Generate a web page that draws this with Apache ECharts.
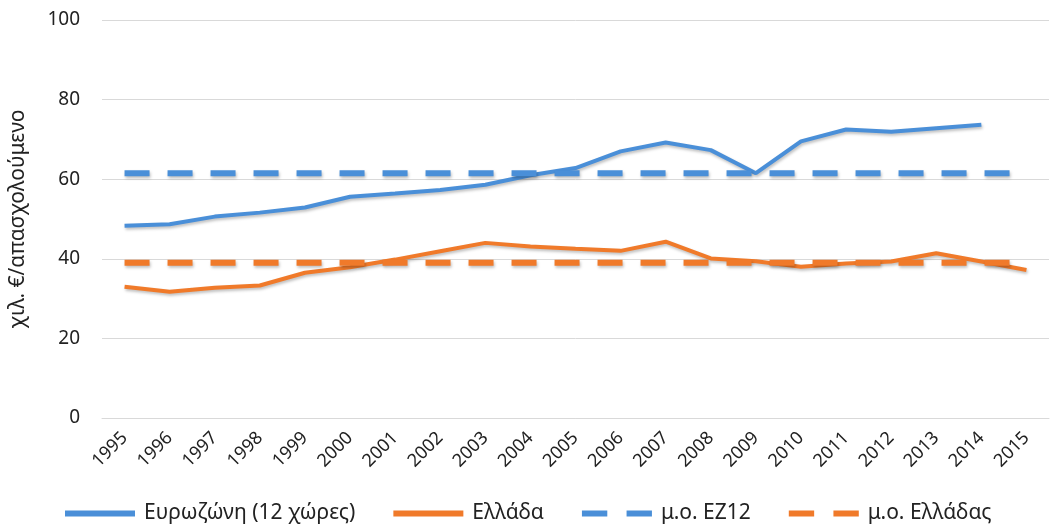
<!DOCTYPE html>
<html>
<head>
<meta charset="utf-8">
<script src="https://cdn.jsdelivr.net/npm/echarts@6/dist/echarts.min.js"></script>
<style>html,body{margin:0;padding:0;background:#fff;}#c{width:1051px;height:530px;}</style>
</head>
<body>
<div id="c"></div>
<script>
const years = ['1995','1996','1997','1998','1999','2000','2001','2002','2003','2004','2005','2006','2007','2008','2009','2010','2011','2012','2013','2014','2015'];
const eurozone = [48.3, 48.7, 50.6, 51.6, 52.9, 55.6, 56.4, 57.3, 58.6, 61.0, 62.8, 67.0, 69.2, 67.3, 61.5, 69.5, 72.5, 71.9, 72.8, 73.7, null];
const greece = [33.0, 31.7, 32.7, 33.3, 36.5, 37.9, 39.8, 41.9, 44.0, 43.1, 42.5, 42.0, 44.3, 40.1, 39.4, 38.0, 38.8, 39.3, 41.4, 39.3, 37.2];
const avgEZ12 = 61.5;
const avgGreece = 39.0;
const yTicks = [0, 20, 40, 60, 80, 100];
const names = ['Ευρωζώνη (12 χώρες)', 'Ελλάδα', 'μ.ο. ΕΖ12', 'μ.ο. Ελλάδας'];

const blue = '#4A8FD8';
const orange = '#F07A2A';
const font = 'Noto Sans';
const shadow = {shadowColor: 'rgba(0,0,0,0.25)', shadowBlur: 3, shadowOffsetX: 1, shadowOffsetY: 2};
const dashIcon = 'path://M0,0h25v6h-25zM44,0h25v6h-25z';

const chart = echarts.init(document.getElementById('c'), null, {renderer: 'canvas'});
chart.setOption({
  animation: false,
  backgroundColor: '#fff',
  textStyle: {fontFamily: font},
  grid: {left: 102, right: 2, top: 20, bottom: 112, containLabel: false},
  legend: {
    bottom: 1,
    left: 60,
    itemWidth: 70,
    itemHeight: 6,
    itemGap: 38,
    symbolKeepAspect: false,
    textStyle: {fontFamily: font, fontSize: 21, color: '#222', padding: [0, 0, 0, 4]},
    data: [
      {name: names[0], icon: 'rect', itemStyle: {color: blue}},
      {name: names[1], icon: 'rect', itemStyle: {color: orange}},
      {name: names[2], icon: dashIcon, itemStyle: {color: blue}},
      {name: names[3], icon: dashIcon, itemStyle: {color: orange}}
    ]
  },
  xAxis: {
    type: 'category',
    data: years,
    boundaryGap: true,
    axisLine: {show: true, lineStyle: {color: '#d9d9d9', width: 1}},
    axisTick: {show: false},
    axisLabel: {rotate: 45, fontSize: 18, color: '#222', margin: 17, fontFamily: font, interval: 0}
  },
  yAxis: {
    type: 'value',
    min: yTicks[0],
    max: yTicks[yTicks.length - 1],
    interval: 20,
    name: 'χιλ. €/απασχολούμενο',
    nameLocation: 'middle',
    nameGap: 73,
    nameTextStyle: {fontSize: 21, color: '#222', fontFamily: font},
    axisLine: {show: false},
    axisTick: {show: false},
    axisLabel: {fontSize: 19, color: '#222', margin: 22, fontFamily: font},
    splitLine: {lineStyle: {color: '#d9d9d9', width: 1}}
  },
  series: [
    {name: names[0], type: 'line', data: eurozone, symbol: 'none', color: blue,
     lineStyle: Object.assign({color: blue, width: 4}, shadow)},
    {name: names[1], type: 'line', data: greece, symbol: 'none', color: orange,
     lineStyle: Object.assign({color: orange, width: 4}, shadow)},
    {name: names[2], type: 'line', data: years.map(() => avgEZ12), symbol: 'none', color: blue,
     lineStyle: Object.assign({color: blue, width: 6, type: [25, 18]}, shadow)},
    {name: names[3], type: 'line', data: years.map(() => avgGreece), symbol: 'none', color: orange,
     lineStyle: Object.assign({color: orange, width: 6, type: [25, 18]}, shadow)}
  ]
});
</script>
</body>
</html>
